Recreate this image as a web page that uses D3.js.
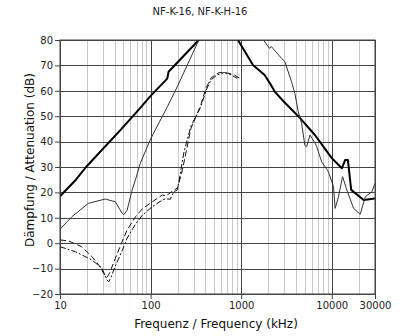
<!DOCTYPE html>
<html><head><meta charset="utf-8">
<script src="https://cdn.jsdelivr.net/npm/d3@7"></script>
<style>body{margin:0;background:#fff}svg{display:block}</style>
</head><body>
<script>
const title = "NF-K-16, NF-K-H-16";
const xTicks = [10, 100, 1000, 10000, 30000];
const yTicks = [-20, -10, 0, 10, 20, 30, 40, 50, 60, 70, 80];

// Series A (thick solid)
const freqA = [10, 15, 19.4, 27.8, 46.4, 77, 100, 150, 153, 158, 250, 351, 600, 903, 1349, 1815, 2116, 2344, 3000, 4266, 6516, 10000, 12920, 14060, 15060, 16380, 22490, 30000];
const valA  = [18.5, 25, 30, 36, 44.5, 53.3, 58, 64.5, 65, 67.5, 75, 80.5, 95, 80.5, 70.2, 66.2, 62.5, 59.7, 55.5, 50, 42.6, 33.5, 29.5, 32.8, 32.8, 21, 17, 17.6];

// Series B (thin solid)
const freqB = [10, 13.5, 20.6, 31.6, 40.8, 48.5, 50.5, 55.1, 62.6, 68.1, 77, 100, 153, 200, 351, 700, 1756, 2062, 2154, 2783, 3030, 3594, 3911, 4266, 4642, 5049, 5275, 5743, 6516, 6813, 7743, 9189, 10450, 10890, 11860, 13150, 14680, 17410, 20610, 23450, 27830, 30000];
const valB  = [5.5, 10.4, 15.7, 17.4, 16.3, 11.8, 11.2, 13, 21, 25, 31.5, 41, 53.7, 62.1, 81, 110, 80, 76.7, 77.4, 72.8, 71.5, 63.6, 59, 51.8, 47.2, 38.5, 38, 42.6, 39.5, 38, 32, 28.1, 22.2, 13.7, 18.3, 26.2, 20.9, 13.7, 11.4, 18.3, 20.3, 23.6];

// Series C (dashed)
const freqC = [10, 12.4, 17.4, 22.5, 27.8, 30.3, 33, 35, 40.8, 48.5, 55.1, 68.1, 80.9, 104.5, 134.9, 146.8, 181.5, 198, 225, 278, 359, 408, 464, 505, 574, 711, 843, 1000];
const valC  = [1.3, 0.9, -1.4, -5.3, -9.3, -11.9, -13.5, -12, -6, 0.6, 5.2, 10.4, 13.5, 16.3, 19, 18.5, 21, 21.6, 29, 45, 54.5, 61, 65, 66, 67.2, 67, 66.2, 64.5];

// Series D (dash-dot)
const freqD = [10, 14.7, 22.5, 29.1, 33, 34.4, 36, 40.8, 48.5, 55.1, 68.1, 80.9, 104.5, 134.9, 146.8, 165, 181.5, 198, 234, 278, 359, 408, 464, 540, 650, 780, 900];
const valD  = [-1.4, -3.3, -6.6, -9.9, -14.5, -15.2, -14, -9, -3, 2, 7.5, 11, 14.4, 17, 17.5, 17.3, 20.3, 21, 36, 46, 53.7, 60, 64.3, 66.2, 67.2, 66.2, 64.9];

const W = 400, H = 336;
const m = {l: 60, r: 25, t: 40, b: 42};
const svg = d3.select("body").append("svg").attr("width", W).attr("height", H);
const x = d3.scaleLog().domain([10, 30000]).range([m.l, W - m.r]);
const y = d3.scaleLinear().domain([-20, 80]).range([H - m.b, m.t]);
const font = "'DejaVu Sans', Verdana, sans-serif";

svg.append("text").attr("x", 200).attr("y", 15).attr("text-anchor", "middle")
  .attr("font-family", font).attr("font-size", 10).attr("fill", "#222").text(title);

const g = svg.append("g");
// minor vertical grid
const minors = [];
[10, 100, 1000, 10000].forEach(d => { for (let k = 2; k <= 9; k++) { const v = d * k; if (v < 30000) minors.push(v); } });
g.selectAll(".mv").data(minors).enter().append("line")
  .attr("x1", d => Math.round(x(d)) + 0.5).attr("x2", d => Math.round(x(d)) + 0.5)
  .attr("y1", y(80)).attr("y2", y(-20)).attr("stroke", "#c8c8c8").attr("stroke-width", 1);
// horizontal grid
g.selectAll(".hg").data(yTicks).enter().append("line")
  .attr("x1", x(10)).attr("x2", x(30000))
  .attr("y1", d => Math.round(y(d)) + 0.5).attr("y2", d => Math.round(y(d)) + 0.5)
  .attr("stroke", "#444").attr("stroke-width", 1);
// major verticals
g.selectAll(".Mv").data(xTicks).enter().append("line")
  .attr("x1", d => Math.round(x(d)) + 0.5).attr("x2", d => Math.round(x(d)) + 0.5)
  .attr("y1", y(80)).attr("y2", y(-20)).attr("stroke", "#444").attr("stroke-width", 1);

// axes
const yAxis = d3.axisLeft(y).tickValues(yTicks).tickSize(5).tickPadding(2);
const ya = svg.append("g").attr("transform", `translate(${m.l},0)`).call(yAxis);
const xAxis = d3.axisBottom(x).tickValues(xTicks).tickFormat(d3.format("d")).tickSize(5).tickPadding(3);
const xa = svg.append("g").attr("transform", `translate(0,${H - m.b})`).call(xAxis);
[ya, xa].forEach(a => {
  a.select(".domain").attr("stroke", "#444");
  a.selectAll(".tick line").attr("stroke", "#444");
  a.selectAll("text").attr("font-family", font).attr("font-size", 10).attr("fill", "#222");
});

svg.append("text").attr("x", 216).attr("y", 328).attr("text-anchor", "middle")
  .attr("font-family", font).attr("font-size", 12).attr("fill", "#111").text("Frequenz / Frequency (kHz)");
svg.append("text").attr("transform", "translate(34,160) rotate(-90)").attr("text-anchor", "middle")
  .attr("font-family", font).attr("font-size", 12).attr("fill", "#111").text("Dämpfung / Attenuation (dB)");

svg.append("clipPath").attr("id", "clip").append("rect")
  .attr("x", x(10)).attr("y", y(80)).attr("width", x(30000) - x(10)).attr("height", y(-20) - y(80));

const line = d3.line().x(d => x(d[0])).y(d => y(d[1]));
const plot = svg.append("g").attr("clip-path", "url(#clip)");
const series = [
  {f: freqA, v: valA, w: 2, c: "#000", dash: null},
  {f: freqB, v: valB, w: 1, c: "#333", dash: null},
  {f: freqC, v: valC, w: 1, c: "#111", dash: "6,3"},
  {f: freqD, v: valD, w: 1, c: "#111", dash: "6,2,2,2"}
];
series.forEach(s => {
  plot.append("path").datum(s.f.map((f, i) => [f, s.v[i]]))
    .attr("d", line).attr("fill", "none").attr("stroke", s.c)
    .attr("stroke-width", s.w).attr("stroke-dasharray", s.dash).attr("stroke-linejoin", "round");
});
// frame top and right
svg.append("rect").attr("x", x(10)).attr("y", y(80)).attr("width", x(30000) - x(10)).attr("height", y(-20) - y(80))
  .attr("fill", "none").attr("stroke", "#444");
</script>
</body></html>
